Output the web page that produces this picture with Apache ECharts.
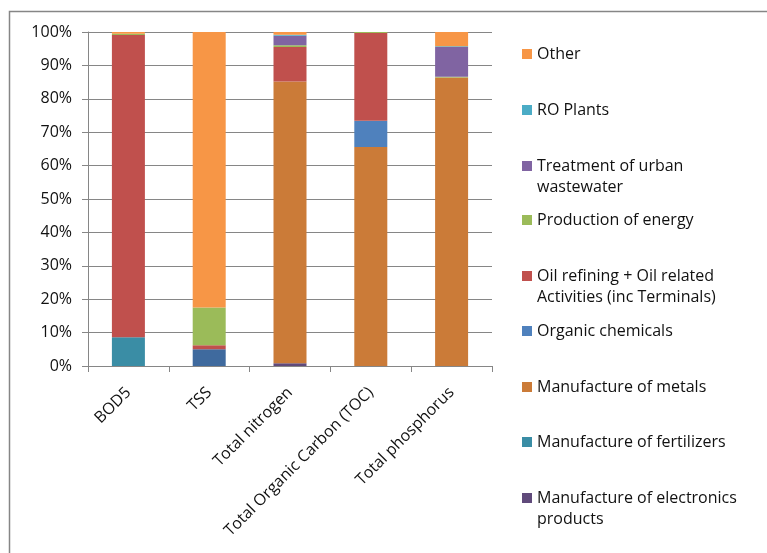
<!DOCTYPE html>
<html>
<head>
<meta charset="utf-8">
<script src="https://cdn.jsdelivr.net/npm/echarts@6/dist/echarts.min.js"></script>
<style>html,body{margin:0;padding:0;background:#fff}#c{width:767px;height:553px}</style>
</head>
<body>
<div id="c"></div>
<script>
const categories = ['BOD5', 'TSS', 'Total nitrogen', 'Total Organic Carbon (TOC)', 'Total phosphorus'];
const yTicks = [0, 10, 20, 30, 40, 50, 60, 70, 80, 90, 100];

// stacked shares (%), bottom to top
const unlabelledSector = [0, 5.0, 0, 0, 0];
const electronics = [0, 0, 0.8, 0, 0];
const fertilizers = [8.6, 0, 0, 0, 0];
const metals = [0, 0, 84.4, 65.6, 86.4];
const organicChemicals = [0, 0, 0, 7.8, 0];
const oilRefining = [90.5, 1.2, 10.3, 26.3, 0];
const energy = [0.4, 11.3, 0.5, 0.3, 0.2];
const urbanWastewater = [0, 0, 2.9, 0, 8.9];
const roPlants = [0, 0, 0.3, 0, 0.2];
const other = [0.5, 82.5, 0.8, 0, 4.3];

const seriesDefs = [
  ['Unlabelled sector', unlabelledSector, '#3F6A9E'],
  ['Manufacture of electronics products', electronics, '#604A7B'],
  ['Manufacture of fertilizers', fertilizers, '#3A8DA5'],
  ['Manufacture of metals', metals, '#CB7B38'],
  ['Organic chemicals', organicChemicals, '#4F81BD'],
  ['Oil refining + Oil related Activities (inc Terminals)', oilRefining, '#C0504D'],
  ['Production of energy', energy, '#9BBB59'],
  ['Treatment of urban wastewater', urbanWastewater, '#8064A2'],
  ['RO Plants', roPlants, '#4BACC6'],
  ['Other', other, '#F79646']
];

const wrapped = {
  'Treatment of urban wastewater': ' \nTreatment of urban\nwastewater',
  'Oil refining + Oil related Activities (inc Terminals)': ' \nOil refining + Oil related\nActivities (inc Terminals)',
  'Manufacture of electronics products': ' \nManufacture of electronics\nproducts'
};
const legendOrder = ['Other', 'RO Plants', 'Treatment of urban wastewater', 'Production of energy',
  'Oil refining + Oil related Activities (inc Terminals)', 'Organic chemicals', 'Manufacture of metals',
  'Manufacture of fertilizers', 'Manufacture of electronics products'];
const legendCenters = [54, 110, 166, 220, 276, 331, 387, 442, 498];

const FONT = 'Open Sans';
const LH = 21;
const legends = legendOrder.map((name, i) => {
  const two = !!wrapped[name];
  return {
    data: [name],
    left: 522,
    top: legendCenters[i] - (two ? LH * 1.5 : LH / 2),
    padding: 0,
    orient: 'vertical',
    icon: 'rect',
    itemWidth: 10,
    itemHeight: 10,
    formatter: n => wrapped[n] || n,
    textStyle: { fontFamily: FONT, fontSize: 16, color: '#111', lineHeight: LH }
  };
});

const chart = echarts.init(document.getElementById('c'));
chart.setOption({
  animation: false,
  graphic: [{
    type: 'rect', shape: { x: 9.5, y: 11.5, width: 900, height: 700 },
    style: { fill: 'none', stroke: '#868686', lineWidth: 1.5 }, silent: true
  }],
  legend: legends,
  grid: { left: 88, right: 275, top: 32, bottom: 187, containLabel: false },
  xAxis: {
    type: 'category',
    data: categories,
    axisLine: { lineStyle: { color: '#868686' } },
    axisTick: { show: true, length: 6, lineStyle: { color: '#868686' } },
    axisLabel: { rotate: 45, margin: 24, fontFamily: FONT, fontSize: 16, color: '#111', interval: 0 }
  },
  yAxis: {
    type: 'value',
    min: yTicks[0], max: yTicks[yTicks.length - 1], interval: 10,
    axisLine: { show: true, lineStyle: { color: '#868686' } },
    axisTick: { show: true, length: 6, lineStyle: { color: '#868686' } },
    splitLine: { lineStyle: { color: '#868686' } },
    axisLabel: { formatter: '{value}%', margin: 16, fontFamily: FONT, fontSize: 16, color: '#111' }
  },
  series: seriesDefs.map(([name, data, color]) => ({
    name, type: 'bar', stack: 'total', data, barWidth: 33,
    itemStyle: { color }
  }))
});
</script>
</body>
</html>
